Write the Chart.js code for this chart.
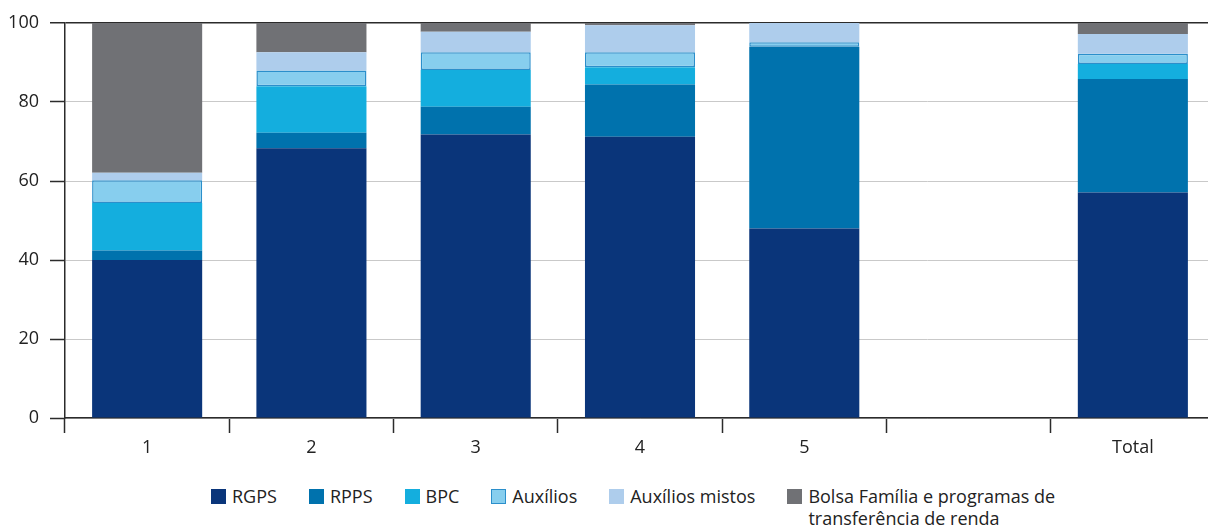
<!DOCTYPE html>
<html>
<head>
<meta charset="utf-8">
<script src="https://cdn.jsdelivr.net/npm/chart.js@4/dist/chart.umd.min.js"></script>
<style>
  html, body { margin: 0; padding: 0; background: #fff; overflow: hidden; }
  #wrap { position: relative; width: 1216px; height: 525px; }
  #chartBox { position: absolute; left: 0; top: 0; width: 1216px; height: 470px; }
  #legend { position: absolute; left: 211px; top: 485px; display: flex; align-items: flex-start;
    font-family: "Open Sans", sans-serif; font-size: 18px; color: #222; line-height: 22px; }
  .item { display: flex; align-items: flex-start; margin-right: 32px; }
  .box { width: 15px; height: 15px; margin-top: 4px; margin-right: 6px; box-sizing: border-box; }
</style>
</head>
<body>
<div id="wrap">
  <div id="chartBox"><canvas id="chart"></canvas></div>
  <div id="legend"></div>
</div>
<script>
const categories = ['1', '2', '3', '4', '5', '', 'Total'];
const rgps = [40.0, 68.3, 71.8, 71.2, 48.0, null, 57.1];
const rpps = [2.4, 3.9, 7.0, 13.2, 46.0, null, 28.7];
const bpc = [12.0, 11.8, 9.3, 4.4, 0, null, 3.8];
const auxilios = [5.8, 4.0, 4.5, 3.8, 1.1, null, 2.6];
const auxiliosMistos = [1.9, 4.6, 5.2, 6.8, 4.9, null, 5.0];
const bolsaFamilia = [37.9, 7.4, 2.2, 0.6, 0, null, 2.8];
const yTicks = [0, 20, 40, 60, 80, 100];

const series = [
  { label: 'RGPS', data: rgps, color: '#0a357a', border: '#0a357a' },
  { label: 'RPPS', data: rpps, color: '#0072ad', border: '#0072ad' },
  { label: 'BPC', data: bpc, color: '#14aede', border: '#14aede' },
  { label: 'Auxílios', data: auxilios, color: '#87ceee', border: '#2b8fcb', width: 1.5 },
  { label: 'Auxílios mistos', data: auxiliosMistos, color: '#aecdec', border: '#aecdec' },
  { label: 'Bolsa Família e programas de<br>transferência de renda', data: bolsaFamilia, color: '#707175', border: '#707175' }
];

const dark = '#2b2b2b';
const font = { family: '"Open Sans", sans-serif', size: 18 };

const ctx = document.getElementById('chart').getContext('2d');
new Chart(ctx, {
  type: 'bar',
  data: {
    labels: categories,
    datasets: series.map(s => ({
      label: s.label.replace('<br>', ' '),
      data: s.data,
      backgroundColor: s.color,
      borderColor: s.border,
      borderWidth: s.width || 0,
      borderSkipped: false,
      categoryPercentage: 1,
      barPercentage: 0.67
    }))
  },
  options: {
    responsive: true,
    maintainAspectRatio: false,
    animation: false,
    layout: { padding: { top: 23, right: 1, left: 0, bottom: 0 } },
    plugins: { legend: { display: false }, tooltip: { enabled: false } },
    scales: {
      x: {
        stacked: true,
        afterFit: (scale) => { scale.height = 52; },
        border: { color: dark, width: 1.5 },
        grid: { display: true, drawOnChartArea: false, offset: true, tickLength: 15, tickColor: dark, tickWidth: 1.5 },
        ticks: { color: '#222', font: font, padding: 4 }
      },
      y: {
        stacked: true,
        min: 0,
        max: 100,
        afterFit: (scale) => { scale.width = 65; },
        afterBuildTicks: (scale) => { scale.ticks = yTicks.map(v => ({ value: v })); },
        border: { color: dark, width: 1.5 },
        grid: {
          color: (c) => (c.tick && c.tick.value === 100) ? dark : '#c9c9c9',
          lineWidth: (c) => (c.tick && c.tick.value === 100) ? 1.5 : 1,
          tickLength: 15,
          tickColor: dark,
          tickWidth: 1.5
        },
        ticks: { color: '#222', font: font, padding: 11 }
      }
    }
  }
});

const legend = document.getElementById('legend');
series.forEach((s, i) => {
  const item = document.createElement('div');
  item.className = 'item';
  const box = document.createElement('span');
  box.className = 'box';
  box.style.background = s.color;
  if (s.width) box.style.border = '1.5px solid ' + s.border;
  const text = document.createElement('span');
  text.innerHTML = s.label;
  item.appendChild(box);
  item.appendChild(text);
  legend.appendChild(item);
});
</script>
</body>
</html>
